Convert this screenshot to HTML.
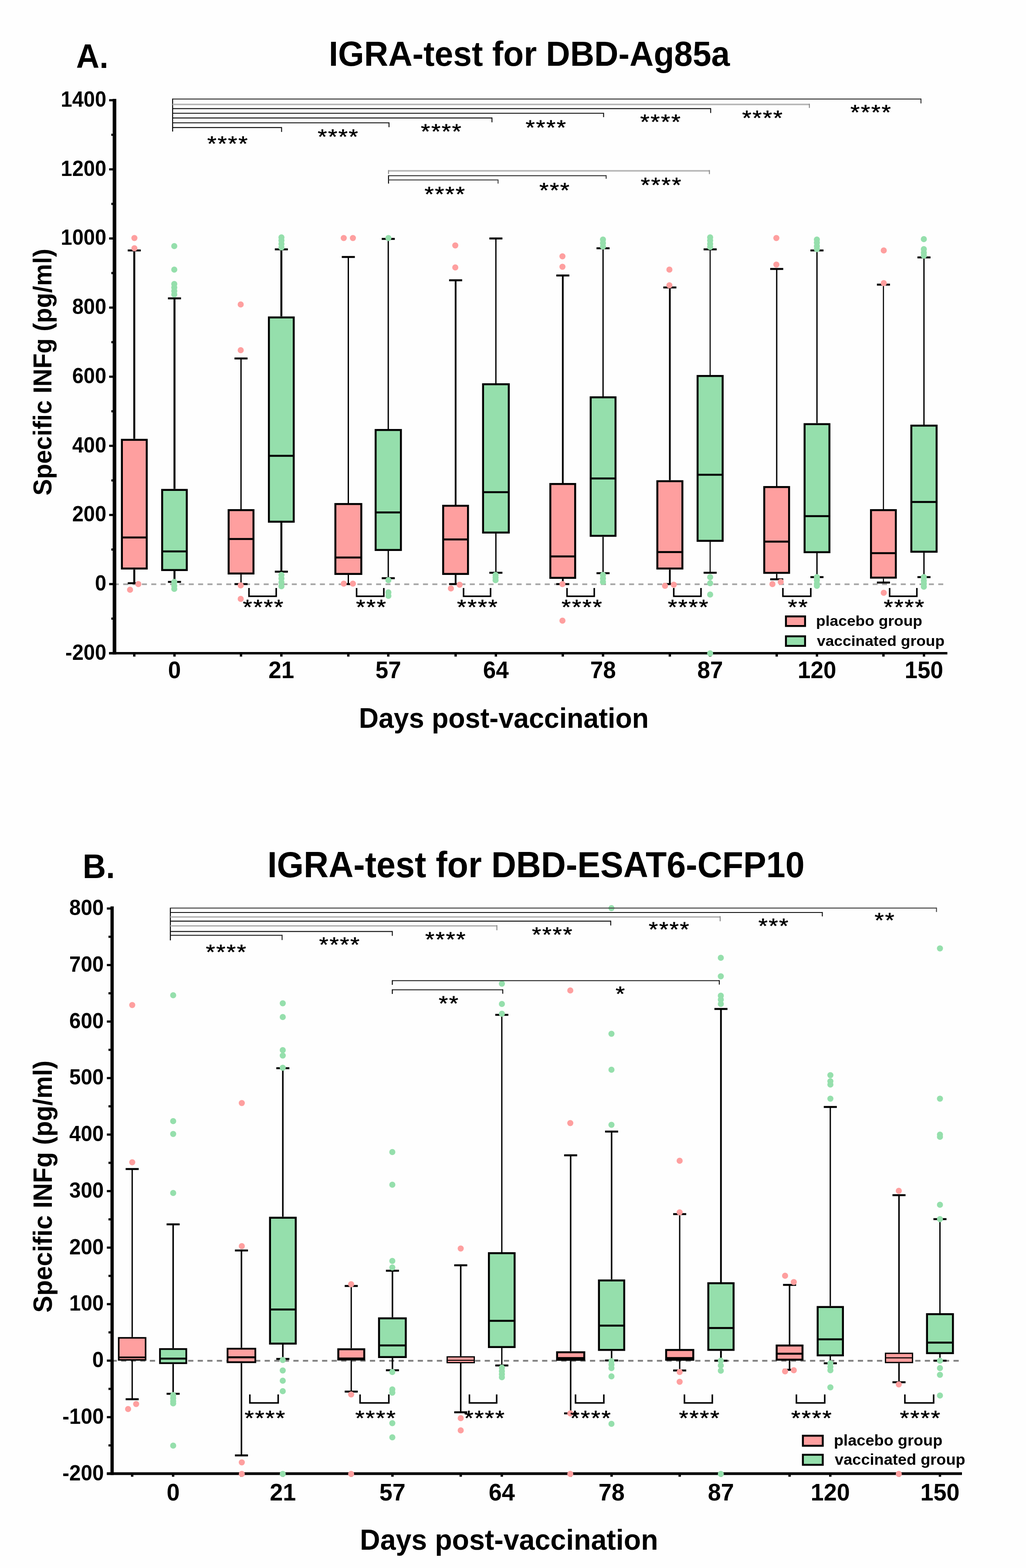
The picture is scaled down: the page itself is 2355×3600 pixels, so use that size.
<!DOCTYPE html><html><head><meta charset="utf-8"><style>html,body{margin:0;padding:0;background:#fefefe;}svg{display:block;}</style></head><body><svg width="2355" height="3600" viewBox="0 0 2355 3600" font-family="'Liberation Sans', Arial, sans-serif">
<rect x="0.0" y="0.0" width="2355.0" height="3600.0" fill="#fefefe"/>
<text transform="translate(174.8,156.0) scale(1,1.045)" font-size="74" font-weight="bold" text-anchor="start" >A.</text>
<text transform="translate(1215.0,150.6) scale(1,1.045)" font-size="76.7" font-weight="bold" text-anchor="middle" >IGRA-test for DBD-Ag85a</text>
<text transform="translate(118,854.3) rotate(-90) scale(1,1.045)" font-size="57" font-weight="bold" text-anchor="middle">Specific INFg (pg/ml)</text>
<text transform="translate(1156.4,1671.2) scale(1,1.045)" font-size="62.7" font-weight="bold" text-anchor="middle" >Days post-vaccination</text>
<line x1="261.2" y1="1341.4" x2="2165.2" y2="1341.4" stroke="#a4a4a4" stroke-width="3.8" stroke-dasharray="11.5 10.004"/>
<line x1="262.8" y1="227.0" x2="262.8" y2="1502.6" stroke="#000" stroke-width="8.3" />
<line x1="250.4" y1="1499.8" x2="2174.5" y2="1499.8" stroke="#000" stroke-width="5.6" />
<line x1="250.5" y1="230.1" x2="262.8" y2="230.1" stroke="#000" stroke-width="5" />
<text transform="translate(244.1,245.0) scale(1,1.045)" font-size="47" font-weight="bold" text-anchor="end" >1400</text>
<line x1="250.5" y1="388.8" x2="262.8" y2="388.8" stroke="#000" stroke-width="5" />
<text transform="translate(244.1,403.7) scale(1,1.045)" font-size="47" font-weight="bold" text-anchor="end" >1200</text>
<line x1="250.5" y1="547.5" x2="262.8" y2="547.5" stroke="#000" stroke-width="5" />
<text transform="translate(244.1,562.4) scale(1,1.045)" font-size="47" font-weight="bold" text-anchor="end" >1000</text>
<line x1="250.5" y1="706.2" x2="262.8" y2="706.2" stroke="#000" stroke-width="5" />
<text transform="translate(244.1,721.1) scale(1,1.045)" font-size="47" font-weight="bold" text-anchor="end" >800</text>
<line x1="250.5" y1="864.9" x2="262.8" y2="864.9" stroke="#000" stroke-width="5" />
<text transform="translate(244.1,879.8) scale(1,1.045)" font-size="47" font-weight="bold" text-anchor="end" >600</text>
<line x1="250.5" y1="1023.6" x2="262.8" y2="1023.6" stroke="#000" stroke-width="5" />
<text transform="translate(244.1,1038.5) scale(1,1.045)" font-size="47" font-weight="bold" text-anchor="end" >400</text>
<line x1="250.5" y1="1182.3" x2="262.8" y2="1182.3" stroke="#000" stroke-width="5" />
<text transform="translate(244.1,1197.2) scale(1,1.045)" font-size="47" font-weight="bold" text-anchor="end" >200</text>
<line x1="250.5" y1="1341.0" x2="262.8" y2="1341.0" stroke="#000" stroke-width="5" />
<text transform="translate(244.1,1355.9) scale(1,1.045)" font-size="47" font-weight="bold" text-anchor="end" >0</text>
<line x1="250.5" y1="1499.7" x2="262.8" y2="1499.7" stroke="#000" stroke-width="5" />
<text transform="translate(244.1,1514.6) scale(1,1.045)" font-size="47" font-weight="bold" text-anchor="end" >-200</text>
<line x1="255.5" y1="309.5" x2="262.8" y2="309.5" stroke="#000" stroke-width="5" />
<line x1="255.5" y1="468.1" x2="262.8" y2="468.1" stroke="#000" stroke-width="5" />
<line x1="255.5" y1="626.9" x2="262.8" y2="626.9" stroke="#000" stroke-width="5" />
<line x1="255.5" y1="785.6" x2="262.8" y2="785.6" stroke="#000" stroke-width="5" />
<line x1="255.5" y1="944.2" x2="262.8" y2="944.2" stroke="#000" stroke-width="5" />
<line x1="255.5" y1="1103.0" x2="262.8" y2="1103.0" stroke="#000" stroke-width="5" />
<line x1="255.5" y1="1261.7" x2="262.8" y2="1261.7" stroke="#000" stroke-width="5" />
<line x1="255.5" y1="1420.3" x2="262.8" y2="1420.3" stroke="#000" stroke-width="5" />
<line x1="308.2" y1="1499.8" x2="308.2" y2="1507.5" stroke="#000" stroke-width="5.5" />
<line x1="400.5" y1="1499.8" x2="400.5" y2="1507.5" stroke="#000" stroke-width="5.5" />
<line x1="553.2" y1="1499.8" x2="553.2" y2="1507.5" stroke="#000" stroke-width="5.5" />
<line x1="645.8" y1="1499.8" x2="645.8" y2="1507.5" stroke="#000" stroke-width="5.5" />
<line x1="799.5" y1="1499.8" x2="799.5" y2="1507.5" stroke="#000" stroke-width="5.5" />
<line x1="891.2" y1="1499.8" x2="891.2" y2="1507.5" stroke="#000" stroke-width="5.5" />
<line x1="1045.8" y1="1499.8" x2="1045.8" y2="1507.5" stroke="#000" stroke-width="5.5" />
<line x1="1138.2" y1="1499.8" x2="1138.2" y2="1507.5" stroke="#000" stroke-width="5.5" />
<line x1="1291.8" y1="1499.8" x2="1291.8" y2="1507.5" stroke="#000" stroke-width="5.5" />
<line x1="1384.2" y1="1499.8" x2="1384.2" y2="1507.5" stroke="#000" stroke-width="5.5" />
<line x1="1537.5" y1="1499.8" x2="1537.5" y2="1507.5" stroke="#000" stroke-width="5.5" />
<line x1="1630.0" y1="1499.8" x2="1630.0" y2="1507.5" stroke="#000" stroke-width="5.5" />
<line x1="1782.8" y1="1499.8" x2="1782.8" y2="1507.5" stroke="#000" stroke-width="5.5" />
<line x1="1875.2" y1="1499.8" x2="1875.2" y2="1507.5" stroke="#000" stroke-width="5.5" />
<line x1="2027.8" y1="1499.8" x2="2027.8" y2="1507.5" stroke="#000" stroke-width="5.5" />
<line x1="2120.8" y1="1499.8" x2="2120.8" y2="1507.5" stroke="#000" stroke-width="5.5" />
<text transform="translate(400.5,1557.0) scale(1,1.045)" font-size="53" font-weight="bold" text-anchor="middle" >0</text>
<text transform="translate(645.8,1557.0) scale(1,1.045)" font-size="53" font-weight="bold" text-anchor="middle" >21</text>
<text transform="translate(891.2,1557.0) scale(1,1.045)" font-size="53" font-weight="bold" text-anchor="middle" >57</text>
<text transform="translate(1138.2,1557.0) scale(1,1.045)" font-size="53" font-weight="bold" text-anchor="middle" >64</text>
<text transform="translate(1384.2,1557.0) scale(1,1.045)" font-size="53" font-weight="bold" text-anchor="middle" >78</text>
<text transform="translate(1630.0,1557.0) scale(1,1.045)" font-size="53" font-weight="bold" text-anchor="middle" >87</text>
<text transform="translate(1875.2,1557.0) scale(1,1.045)" font-size="53" font-weight="bold" text-anchor="middle" >120</text>
<text transform="translate(2120.8,1557.0) scale(1,1.045)" font-size="53" font-weight="bold" text-anchor="middle" >150</text>
<line x1="308.2" y1="575.0" x2="308.2" y2="1007.5" stroke="#000" stroke-width="4.5" />
<line x1="293.2" y1="575.0" x2="323.2" y2="575.0" stroke="#000" stroke-width="4.5" />
<line x1="308.2" y1="1307.5" x2="308.2" y2="1339.0" stroke="#000" stroke-width="4.5" />
<line x1="293.2" y1="1339.0" x2="323.2" y2="1339.0" stroke="#000" stroke-width="4.5" />
<rect x="279.8" y="1009.8" width="57.0" height="295.5" fill="#fe9f9f" stroke="#000" stroke-width="4.5"/>
<line x1="279.8" y1="1234.0" x2="336.8" y2="1234.0" stroke="#000" stroke-width="4.5" />
<line x1="400.5" y1="685.0" x2="400.5" y2="1122.5" stroke="#000" stroke-width="4.5" />
<line x1="385.5" y1="685.0" x2="415.5" y2="685.0" stroke="#000" stroke-width="4.5" />
<line x1="400.5" y1="1311.0" x2="400.5" y2="1336.0" stroke="#000" stroke-width="4.5" />
<line x1="385.5" y1="1336.0" x2="415.5" y2="1336.0" stroke="#000" stroke-width="4.5" />
<rect x="372.2" y="1124.8" width="56.5" height="184.0" fill="#95dfac" stroke="#000" stroke-width="4.5"/>
<line x1="372.2" y1="1266.0" x2="428.8" y2="1266.0" stroke="#000" stroke-width="4.5" />
<line x1="553.2" y1="823.0" x2="553.2" y2="1169.0" stroke="#000" stroke-width="3" />
<line x1="538.2" y1="823.0" x2="568.2" y2="823.0" stroke="#000" stroke-width="4.5" />
<line x1="553.2" y1="1319.0" x2="553.2" y2="1341.0" stroke="#000" stroke-width="3" />
<line x1="538.2" y1="1341.0" x2="568.2" y2="1341.0" stroke="#000" stroke-width="4.5" />
<rect x="524.8" y="1171.2" width="57.0" height="145.5" fill="#fe9f9f" stroke="#000" stroke-width="4.5"/>
<line x1="524.8" y1="1237.5" x2="581.8" y2="1237.5" stroke="#000" stroke-width="4.5" />
<line x1="645.8" y1="572.5" x2="645.8" y2="726.5" stroke="#000" stroke-width="4.5" />
<line x1="630.8" y1="572.5" x2="660.8" y2="572.5" stroke="#000" stroke-width="4.5" />
<line x1="645.8" y1="1200.0" x2="645.8" y2="1312.5" stroke="#000" stroke-width="4.5" />
<line x1="630.8" y1="1312.5" x2="660.8" y2="1312.5" stroke="#000" stroke-width="4.5" />
<rect x="617.2" y="728.8" width="57.0" height="469.0" fill="#95dfac" stroke="#000" stroke-width="4.5"/>
<line x1="617.2" y1="1046.5" x2="674.2" y2="1046.5" stroke="#000" stroke-width="4.5" />
<line x1="799.5" y1="590.0" x2="799.5" y2="1155.0" stroke="#000" stroke-width="3" />
<line x1="784.5" y1="590.0" x2="814.5" y2="590.0" stroke="#000" stroke-width="4.5" />
<line x1="799.5" y1="1320.0" x2="799.5" y2="1341.0" stroke="#000" stroke-width="3" />
<line x1="784.5" y1="1341.0" x2="814.5" y2="1341.0" stroke="#000" stroke-width="4.5" />
<rect x="769.8" y="1157.2" width="59.5" height="160.5" fill="#fe9f9f" stroke="#000" stroke-width="4.5"/>
<line x1="769.8" y1="1280.0" x2="829.2" y2="1280.0" stroke="#000" stroke-width="4.5" />
<line x1="891.2" y1="548.5" x2="891.2" y2="985.0" stroke="#000" stroke-width="3" />
<line x1="876.2" y1="548.5" x2="906.2" y2="548.5" stroke="#000" stroke-width="4.5" />
<line x1="891.2" y1="1265.0" x2="891.2" y2="1327.5" stroke="#000" stroke-width="3" />
<line x1="876.2" y1="1327.5" x2="906.2" y2="1327.5" stroke="#000" stroke-width="4.5" />
<rect x="862.2" y="987.2" width="58.0" height="275.5" fill="#95dfac" stroke="#000" stroke-width="4.5"/>
<line x1="862.2" y1="1176.5" x2="920.2" y2="1176.5" stroke="#000" stroke-width="4.5" />
<line x1="1045.8" y1="643.5" x2="1045.8" y2="1159.0" stroke="#000" stroke-width="4" />
<line x1="1030.8" y1="643.5" x2="1060.8" y2="643.5" stroke="#000" stroke-width="4.5" />
<line x1="1045.8" y1="1320.0" x2="1045.8" y2="1341.0" stroke="#000" stroke-width="4" />
<line x1="1030.8" y1="1341.0" x2="1060.8" y2="1341.0" stroke="#000" stroke-width="4.5" />
<rect x="1017.2" y="1161.2" width="57.0" height="156.5" fill="#fe9f9f" stroke="#000" stroke-width="4.5"/>
<line x1="1017.2" y1="1238.5" x2="1074.2" y2="1238.5" stroke="#000" stroke-width="4.5" />
<line x1="1138.2" y1="547.5" x2="1138.2" y2="880.0" stroke="#000" stroke-width="3" />
<line x1="1123.2" y1="547.5" x2="1153.2" y2="547.5" stroke="#000" stroke-width="4.5" />
<line x1="1138.2" y1="1225.0" x2="1138.2" y2="1315.0" stroke="#000" stroke-width="3" />
<line x1="1123.2" y1="1315.0" x2="1153.2" y2="1315.0" stroke="#000" stroke-width="4.5" />
<rect x="1108.8" y="882.2" width="59.0" height="340.5" fill="#95dfac" stroke="#000" stroke-width="4.5"/>
<line x1="1108.8" y1="1130.0" x2="1167.8" y2="1130.0" stroke="#000" stroke-width="4.5" />
<line x1="1291.8" y1="632.5" x2="1291.8" y2="1109.0" stroke="#000" stroke-width="4" />
<line x1="1276.8" y1="632.5" x2="1306.8" y2="632.5" stroke="#000" stroke-width="4.5" />
<line x1="1291.8" y1="1329.0" x2="1291.8" y2="1341.0" stroke="#000" stroke-width="4" />
<line x1="1276.8" y1="1341.0" x2="1306.8" y2="1341.0" stroke="#000" stroke-width="4.5" />
<rect x="1263.2" y="1111.2" width="57.0" height="215.5" fill="#fe9f9f" stroke="#000" stroke-width="4.5"/>
<line x1="1263.2" y1="1277.5" x2="1320.2" y2="1277.5" stroke="#000" stroke-width="4.5" />
<line x1="1384.2" y1="570.0" x2="1384.2" y2="910.0" stroke="#000" stroke-width="3" />
<line x1="1369.2" y1="570.0" x2="1399.2" y2="570.0" stroke="#000" stroke-width="4.5" />
<line x1="1384.2" y1="1232.5" x2="1384.2" y2="1316.0" stroke="#000" stroke-width="3" />
<line x1="1369.2" y1="1316.0" x2="1399.2" y2="1316.0" stroke="#000" stroke-width="4.5" />
<rect x="1355.8" y="912.2" width="57.0" height="318.0" fill="#95dfac" stroke="#000" stroke-width="4.5"/>
<line x1="1355.8" y1="1098.5" x2="1412.8" y2="1098.5" stroke="#000" stroke-width="4.5" />
<line x1="1537.5" y1="660.0" x2="1537.5" y2="1102.5" stroke="#000" stroke-width="4" />
<line x1="1522.5" y1="660.0" x2="1552.5" y2="660.0" stroke="#000" stroke-width="4.5" />
<line x1="1537.5" y1="1307.5" x2="1537.5" y2="1341.0" stroke="#000" stroke-width="4" />
<line x1="1522.5" y1="1341.0" x2="1552.5" y2="1341.0" stroke="#000" stroke-width="4.5" />
<rect x="1508.8" y="1104.8" width="57.5" height="200.5" fill="#fe9f9f" stroke="#000" stroke-width="4.5"/>
<line x1="1508.8" y1="1267.5" x2="1566.2" y2="1267.5" stroke="#000" stroke-width="4.5" />
<line x1="1630.0" y1="572.5" x2="1630.0" y2="861.0" stroke="#000" stroke-width="2.5" />
<line x1="1615.0" y1="572.5" x2="1645.0" y2="572.5" stroke="#000" stroke-width="4.5" />
<line x1="1630.0" y1="1244.0" x2="1630.0" y2="1315.0" stroke="#000" stroke-width="2.5" />
<line x1="1615.0" y1="1315.0" x2="1645.0" y2="1315.0" stroke="#000" stroke-width="4.5" />
<rect x="1601.2" y="863.2" width="57.5" height="378.5" fill="#95dfac" stroke="#000" stroke-width="4.5"/>
<line x1="1601.2" y1="1090.0" x2="1658.8" y2="1090.0" stroke="#000" stroke-width="4.5" />
<line x1="1782.8" y1="617.5" x2="1782.8" y2="1116.0" stroke="#000" stroke-width="3" />
<line x1="1767.8" y1="617.5" x2="1797.8" y2="617.5" stroke="#000" stroke-width="4.5" />
<line x1="1782.8" y1="1317.5" x2="1782.8" y2="1330.0" stroke="#000" stroke-width="3" />
<line x1="1767.8" y1="1330.0" x2="1797.8" y2="1330.0" stroke="#000" stroke-width="4.5" />
<rect x="1754.2" y="1118.2" width="57.0" height="197.0" fill="#fe9f9f" stroke="#000" stroke-width="4.5"/>
<line x1="1754.2" y1="1243.5" x2="1811.2" y2="1243.5" stroke="#000" stroke-width="4.5" />
<line x1="1875.2" y1="575.0" x2="1875.2" y2="971.5" stroke="#000" stroke-width="3" />
<line x1="1860.2" y1="575.0" x2="1890.2" y2="575.0" stroke="#000" stroke-width="4.5" />
<line x1="1875.2" y1="1270.0" x2="1875.2" y2="1325.0" stroke="#000" stroke-width="3" />
<line x1="1860.2" y1="1325.0" x2="1890.2" y2="1325.0" stroke="#000" stroke-width="4.5" />
<rect x="1846.8" y="973.8" width="57.0" height="294.0" fill="#95dfac" stroke="#000" stroke-width="4.5"/>
<line x1="1846.8" y1="1185.0" x2="1903.8" y2="1185.0" stroke="#000" stroke-width="4.5" />
<line x1="2027.8" y1="653.5" x2="2027.8" y2="1169.0" stroke="#000" stroke-width="2.5" />
<line x1="2012.8" y1="653.5" x2="2042.8" y2="653.5" stroke="#000" stroke-width="4.5" />
<line x1="2027.8" y1="1328.5" x2="2027.8" y2="1337.5" stroke="#000" stroke-width="2.5" />
<line x1="2012.8" y1="1337.5" x2="2042.8" y2="1337.5" stroke="#000" stroke-width="4.5" />
<rect x="1999.2" y="1171.2" width="57.0" height="155.0" fill="#fe9f9f" stroke="#000" stroke-width="4.5"/>
<line x1="1999.2" y1="1270.0" x2="2056.2" y2="1270.0" stroke="#000" stroke-width="4.5" />
<line x1="2120.8" y1="591.0" x2="2120.8" y2="975.0" stroke="#000" stroke-width="3" />
<line x1="2105.8" y1="591.0" x2="2135.8" y2="591.0" stroke="#000" stroke-width="4.5" />
<line x1="2120.8" y1="1269.0" x2="2120.8" y2="1325.0" stroke="#000" stroke-width="3" />
<line x1="2105.8" y1="1325.0" x2="2135.8" y2="1325.0" stroke="#000" stroke-width="4.5" />
<rect x="2091.8" y="977.2" width="58.0" height="289.5" fill="#95dfac" stroke="#000" stroke-width="4.5"/>
<line x1="2091.8" y1="1152.5" x2="2149.8" y2="1152.5" stroke="#000" stroke-width="4.5" />
<circle cx="308.5" cy="546.5" r="7.0" fill="#fe9f9f"/>
<circle cx="308.5" cy="570.0" r="7.0" fill="#fe9f9f"/>
<circle cx="298.5" cy="1354.0" r="7.0" fill="#fe9f9f"/>
<circle cx="317.5" cy="1341.0" r="7.0" fill="#fe9f9f"/>
<circle cx="400.0" cy="565.0" r="7.0" fill="#95dfac"/>
<circle cx="400.0" cy="619.0" r="7.0" fill="#95dfac"/>
<circle cx="400.0" cy="652.0" r="7.0" fill="#95dfac"/>
<circle cx="400.0" cy="660.0" r="7.0" fill="#95dfac"/>
<circle cx="400.0" cy="668.0" r="7.0" fill="#95dfac"/>
<circle cx="400.0" cy="676.0" r="7.0" fill="#95dfac"/>
<circle cx="400.0" cy="1336.0" r="7.0" fill="#95dfac"/>
<circle cx="400.0" cy="1345.0" r="7.0" fill="#95dfac"/>
<circle cx="400.0" cy="1352.0" r="7.0" fill="#95dfac"/>
<circle cx="552.5" cy="699.0" r="7.0" fill="#fe9f9f"/>
<circle cx="552.5" cy="804.0" r="7.0" fill="#fe9f9f"/>
<circle cx="552.5" cy="1344.0" r="7.0" fill="#fe9f9f"/>
<circle cx="552.5" cy="1375.0" r="7.0" fill="#fe9f9f"/>
<circle cx="646.0" cy="545.0" r="7.0" fill="#95dfac"/>
<circle cx="646.0" cy="552.0" r="7.0" fill="#95dfac"/>
<circle cx="646.0" cy="560.0" r="7.0" fill="#95dfac"/>
<circle cx="646.0" cy="568.0" r="7.0" fill="#95dfac"/>
<circle cx="646.0" cy="1320.0" r="7.0" fill="#95dfac"/>
<circle cx="646.0" cy="1328.0" r="7.0" fill="#95dfac"/>
<circle cx="646.0" cy="1337.0" r="7.0" fill="#95dfac"/>
<circle cx="646.0" cy="1346.0" r="7.0" fill="#95dfac"/>
<circle cx="789.0" cy="546.5" r="7.0" fill="#fe9f9f"/>
<circle cx="810.0" cy="546.5" r="7.0" fill="#fe9f9f"/>
<circle cx="789.0" cy="1340.0" r="7.0" fill="#fe9f9f"/>
<circle cx="810.0" cy="1340.0" r="7.0" fill="#fe9f9f"/>
<circle cx="891.5" cy="546.5" r="7.0" fill="#95dfac"/>
<circle cx="891.5" cy="1332.0" r="7.0" fill="#95dfac"/>
<circle cx="891.5" cy="1360.0" r="7.0" fill="#95dfac"/>
<circle cx="891.5" cy="1368.0" r="7.0" fill="#95dfac"/>
<circle cx="1045.0" cy="563.5" r="7.0" fill="#fe9f9f"/>
<circle cx="1045.0" cy="614.0" r="7.0" fill="#fe9f9f"/>
<circle cx="1035.0" cy="1351.0" r="7.0" fill="#fe9f9f"/>
<circle cx="1055.0" cy="1342.5" r="7.0" fill="#fe9f9f"/>
<circle cx="1137.5" cy="1320.0" r="7.0" fill="#95dfac"/>
<circle cx="1137.5" cy="1326.0" r="7.0" fill="#95dfac"/>
<circle cx="1137.5" cy="1332.0" r="7.0" fill="#95dfac"/>
<circle cx="1291.0" cy="588.5" r="7.0" fill="#fe9f9f"/>
<circle cx="1291.0" cy="612.5" r="7.0" fill="#fe9f9f"/>
<circle cx="1291.0" cy="1341.0" r="7.0" fill="#fe9f9f"/>
<circle cx="1291.0" cy="1425.0" r="7.0" fill="#fe9f9f"/>
<circle cx="1384.0" cy="550.0" r="7.0" fill="#95dfac"/>
<circle cx="1384.0" cy="558.0" r="7.0" fill="#95dfac"/>
<circle cx="1384.0" cy="566.0" r="7.0" fill="#95dfac"/>
<circle cx="1384.0" cy="1320.0" r="7.0" fill="#95dfac"/>
<circle cx="1384.0" cy="1328.0" r="7.0" fill="#95dfac"/>
<circle cx="1384.0" cy="1336.0" r="7.0" fill="#95dfac"/>
<circle cx="1536.5" cy="619.0" r="7.0" fill="#fe9f9f"/>
<circle cx="1536.5" cy="655.0" r="7.0" fill="#fe9f9f"/>
<circle cx="1526.5" cy="1345.0" r="7.0" fill="#fe9f9f"/>
<circle cx="1546.5" cy="1342.5" r="7.0" fill="#fe9f9f"/>
<circle cx="1630.0" cy="545.0" r="7.0" fill="#95dfac"/>
<circle cx="1630.0" cy="552.0" r="7.0" fill="#95dfac"/>
<circle cx="1630.0" cy="560.0" r="7.0" fill="#95dfac"/>
<circle cx="1630.0" cy="567.0" r="7.0" fill="#95dfac"/>
<circle cx="1630.0" cy="1325.0" r="7.0" fill="#95dfac"/>
<circle cx="1630.0" cy="1339.0" r="7.0" fill="#95dfac"/>
<circle cx="1630.0" cy="1365.0" r="7.0" fill="#95dfac"/>
<circle cx="1630.0" cy="1500.0" r="7.0" fill="#95dfac"/>
<circle cx="1782.0" cy="546.5" r="7.0" fill="#fe9f9f"/>
<circle cx="1782.0" cy="607.5" r="7.0" fill="#fe9f9f"/>
<circle cx="1773.0" cy="1341.0" r="7.0" fill="#fe9f9f"/>
<circle cx="1792.0" cy="1336.0" r="7.0" fill="#fe9f9f"/>
<circle cx="1875.0" cy="550.0" r="7.0" fill="#95dfac"/>
<circle cx="1875.0" cy="557.0" r="7.0" fill="#95dfac"/>
<circle cx="1875.0" cy="565.0" r="7.0" fill="#95dfac"/>
<circle cx="1875.0" cy="572.0" r="7.0" fill="#95dfac"/>
<circle cx="1875.0" cy="1325.0" r="7.0" fill="#95dfac"/>
<circle cx="1875.0" cy="1332.0" r="7.0" fill="#95dfac"/>
<circle cx="1875.0" cy="1340.0" r="7.0" fill="#95dfac"/>
<circle cx="1875.0" cy="1345.0" r="7.0" fill="#95dfac"/>
<circle cx="2028.5" cy="575.0" r="7.0" fill="#fe9f9f"/>
<circle cx="2028.5" cy="650.0" r="7.0" fill="#fe9f9f"/>
<circle cx="2028.5" cy="1361.0" r="7.0" fill="#fe9f9f"/>
<circle cx="2120.5" cy="549.0" r="7.0" fill="#95dfac"/>
<circle cx="2120.5" cy="572.0" r="7.0" fill="#95dfac"/>
<circle cx="2120.5" cy="580.0" r="7.0" fill="#95dfac"/>
<circle cx="2120.5" cy="587.0" r="7.0" fill="#95dfac"/>
<circle cx="2120.5" cy="1325.0" r="7.0" fill="#95dfac"/>
<circle cx="2120.5" cy="1333.0" r="7.0" fill="#95dfac"/>
<circle cx="2120.5" cy="1340.0" r="7.0" fill="#95dfac"/>
<circle cx="2120.5" cy="1347.0" r="7.0" fill="#95dfac"/>
<line x1="396.2" y1="226.3" x2="396.2" y2="302.0" stroke="#000" stroke-width="2.2" />
<line x1="396.2" y1="227.4" x2="2113.9" y2="227.4" stroke="#333" stroke-width="2.2" />
<line x1="2113.9" y1="226.3" x2="2113.9" y2="237.4" stroke="#333" stroke-width="2.2" />
<line x1="396.2" y1="239.8" x2="1857.8" y2="239.8" stroke="#b5b5b5" stroke-width="3.4" />
<line x1="1857.8" y1="238.1" x2="1857.8" y2="247.8" stroke="#888" stroke-width="2.2" />
<line x1="396.2" y1="249.4" x2="1631.2" y2="249.4" stroke="#111" stroke-width="2.2" />
<line x1="1631.2" y1="248.3" x2="1631.2" y2="259.4" stroke="#111" stroke-width="2.2" />
<line x1="396.2" y1="260.0" x2="1385.4" y2="260.0" stroke="#111" stroke-width="2.2" />
<line x1="1385.4" y1="258.9" x2="1385.4" y2="269.0" stroke="#111" stroke-width="2.2" />
<line x1="396.2" y1="270.8" x2="1129.2" y2="270.8" stroke="#111" stroke-width="2.2" />
<line x1="1129.2" y1="269.7" x2="1129.2" y2="280.8" stroke="#111" stroke-width="2.2" />
<line x1="396.2" y1="282.0" x2="892.9" y2="282.0" stroke="#111" stroke-width="2.2" />
<line x1="892.9" y1="280.9" x2="892.9" y2="292.0" stroke="#111" stroke-width="2.2" />
<line x1="396.2" y1="292.9" x2="646.3" y2="292.9" stroke="#111" stroke-width="2.2" />
<line x1="646.3" y1="291.8" x2="646.3" y2="302.9" stroke="#111" stroke-width="2.2" />
<text transform="translate(475.8,345.7) scale(1.13,1)" font-size="48.2" font-weight="normal" stroke="#000" stroke-width="0.7" stroke-linejoin="round" letter-spacing="2.3">****</text>
<text transform="translate(729.2,330.4) scale(1.13,1)" font-size="48.2" font-weight="normal" stroke="#000" stroke-width="0.7" stroke-linejoin="round" letter-spacing="2.3">****</text>
<text transform="translate(966.1,318.0) scale(1.13,1)" font-size="48.2" font-weight="normal" stroke="#000" stroke-width="0.7" stroke-linejoin="round" letter-spacing="2.3">****</text>
<text transform="translate(1206.4,308.5) scale(1.13,1)" font-size="48.2" font-weight="normal" stroke="#000" stroke-width="0.7" stroke-linejoin="round" letter-spacing="2.3">****</text>
<text transform="translate(1469.4,295.8) scale(1.13,1)" font-size="48.2" font-weight="normal" stroke="#000" stroke-width="0.7" stroke-linejoin="round" letter-spacing="2.3">****</text>
<text transform="translate(1703.5,287.1) scale(1.13,1)" font-size="48.2" font-weight="normal" stroke="#000" stroke-width="0.7" stroke-linejoin="round" letter-spacing="2.3">****</text>
<text transform="translate(1952.1,274.1) scale(1.13,1)" font-size="48.2" font-weight="normal" stroke="#000" stroke-width="0.7" stroke-linejoin="round" letter-spacing="2.3">****</text>
<line x1="891.8" y1="402.4" x2="891.8" y2="421.5" stroke="#000" stroke-width="2.2" />
<line x1="891.8" y1="392.2" x2="1628.3" y2="392.2" stroke="#b5b5b5" stroke-width="3.4" />
<line x1="1628.3" y1="390.5" x2="1628.3" y2="399.7" stroke="#888" stroke-width="2.2" />
<line x1="891.8" y1="403.4" x2="1391.3" y2="403.4" stroke="#333" stroke-width="2.2" />
<line x1="1391.3" y1="402.3" x2="1391.3" y2="410.4" stroke="#333" stroke-width="2.2" />
<line x1="891.8" y1="413.2" x2="1143.2" y2="413.2" stroke="#444" stroke-width="2.2" />
<line x1="1143.2" y1="412.1" x2="1143.2" y2="421.5" stroke="#444" stroke-width="2.2" />
<line x1="891.8" y1="390.5" x2="891.8" y2="399.5" stroke="#888" stroke-width="2.2" />
<text transform="translate(974.5,461.6) scale(1.13,1)" font-size="48.2" font-weight="normal" stroke="#000" stroke-width="0.7" stroke-linejoin="round" letter-spacing="2.3">****</text>
<text transform="translate(1238.1,452.5) scale(1.13,1)" font-size="48.2" font-weight="normal" stroke="#000" stroke-width="0.7" stroke-linejoin="round" letter-spacing="2.3">***</text>
<text transform="translate(1470.8,440.6) scale(1.13,1)" font-size="48.2" font-weight="normal" stroke="#000" stroke-width="0.7" stroke-linejoin="round" letter-spacing="2.3">****</text>
<path d="M571.5,1350.0 V1369.0 H634.0 V1350.0" fill="none" stroke="#000" stroke-width="3.5" stroke-linejoin="miter"/>
<text transform="translate(557.6,1409.9) scale(1.13,1)" font-size="48.2" font-weight="normal" stroke="#000" stroke-width="0.7" stroke-linejoin="round" letter-spacing="2.3">****</text>
<path d="M818.5,1350.0 V1369.0 H881.0 V1350.0" fill="none" stroke="#000" stroke-width="3.5" stroke-linejoin="miter"/>
<text transform="translate(817.2,1409.9) scale(1.13,1)" font-size="48.2" font-weight="normal" stroke="#000" stroke-width="0.7" stroke-linejoin="round" letter-spacing="2.3">***</text>
<path d="M1064.0,1350.0 V1369.0 H1126.0 V1350.0" fill="none" stroke="#000" stroke-width="3.5" stroke-linejoin="miter"/>
<text transform="translate(1049.1,1409.9) scale(1.13,1)" font-size="48.2" font-weight="normal" stroke="#000" stroke-width="0.7" stroke-linejoin="round" letter-spacing="2.3">****</text>
<path d="M1301.5,1350.0 V1369.0 H1364.0 V1350.0" fill="none" stroke="#000" stroke-width="3.5" stroke-linejoin="miter"/>
<text transform="translate(1289.1,1409.9) scale(1.13,1)" font-size="48.2" font-weight="normal" stroke="#000" stroke-width="0.7" stroke-linejoin="round" letter-spacing="2.3">****</text>
<path d="M1546.5,1350.0 V1369.0 H1609.0 V1350.0" fill="none" stroke="#000" stroke-width="3.5" stroke-linejoin="miter"/>
<text transform="translate(1532.9,1409.9) scale(1.13,1)" font-size="48.2" font-weight="normal" stroke="#000" stroke-width="0.7" stroke-linejoin="round" letter-spacing="2.3">****</text>
<path d="M1797.0,1350.0 V1369.0 H1861.0 V1350.0" fill="none" stroke="#000" stroke-width="3.5" stroke-linejoin="miter"/>
<text transform="translate(1808.6,1409.9) scale(1.13,1)" font-size="48.2" font-weight="normal" stroke="#000" stroke-width="0.7" stroke-linejoin="round" letter-spacing="2.3">**</text>
<path d="M2042.0,1350.0 V1369.0 H2104.5 V1350.0" fill="none" stroke="#000" stroke-width="3.5" stroke-linejoin="miter"/>
<text transform="translate(2028.6,1409.9) scale(1.13,1)" font-size="48.2" font-weight="normal" stroke="#000" stroke-width="0.7" stroke-linejoin="round" letter-spacing="2.3">****</text>
<rect x="1804.0" y="1415.2" width="43.9" height="22.0" fill="#fe9f9f" stroke="#000" stroke-width="4.4"/>
<rect x="1804.0" y="1460.9" width="43.9" height="22.0" fill="#95dfac" stroke="#000" stroke-width="4.4"/>
<text transform="translate(1873.1,1436.9) scale(1,0.95)" font-size="35.4" font-weight="bold" text-anchor="start" >placebo group</text>
<text transform="translate(1875.0,1483.1) scale(1,0.95)" font-size="35.4" font-weight="bold" text-anchor="start" >vaccinated group</text>
<text transform="translate(189.8,2016.0) scale(1,1.045)" font-size="74" font-weight="bold" text-anchor="start" >B.</text>
<text transform="translate(1230.2,2013.5) scale(1,1.045)" font-size="79.1" font-weight="bold" text-anchor="middle" >IGRA-test for DBD-ESAT6-CFP10</text>
<text transform="translate(118.5,2724.3) rotate(-90) scale(1,1.045)" font-size="58.2" font-weight="bold" text-anchor="middle">Specific INFg (pg/ml)</text>
<text transform="translate(1168.3,3557.7) scale(1,1.045)" font-size="64.5" font-weight="bold" text-anchor="middle" >Days post-vaccination</text>
<line x1="256.1" y1="3124.3" x2="2201" y2="3124.3" stroke="#7f7f7f" stroke-width="4" stroke-dasharray="12 9.96"/>
<line x1="257.3" y1="2081.0" x2="257.3" y2="3386.4" stroke="#000" stroke-width="7.5" />
<line x1="245.3" y1="3383.3" x2="2208.0" y2="3383.3" stroke="#000" stroke-width="6.2" />
<line x1="245.3" y1="2085.9" x2="257.3" y2="2085.9" stroke="#000" stroke-width="5" />
<text transform="translate(238.3,2101.0) scale(1,1.045)" font-size="47.5" font-weight="bold" text-anchor="end" >800</text>
<line x1="245.3" y1="2215.7" x2="257.3" y2="2215.7" stroke="#000" stroke-width="5" />
<text transform="translate(238.3,2230.7) scale(1,1.045)" font-size="47.5" font-weight="bold" text-anchor="end" >700</text>
<line x1="245.3" y1="2345.4" x2="257.3" y2="2345.4" stroke="#000" stroke-width="5" />
<text transform="translate(238.3,2360.5) scale(1,1.045)" font-size="47.5" font-weight="bold" text-anchor="end" >600</text>
<line x1="245.3" y1="2475.2" x2="257.3" y2="2475.2" stroke="#000" stroke-width="5" />
<text transform="translate(238.3,2490.2) scale(1,1.045)" font-size="47.5" font-weight="bold" text-anchor="end" >500</text>
<line x1="245.3" y1="2604.9" x2="257.3" y2="2604.9" stroke="#000" stroke-width="5" />
<text transform="translate(238.3,2620.0) scale(1,1.045)" font-size="47.5" font-weight="bold" text-anchor="end" >400</text>
<line x1="245.3" y1="2734.7" x2="257.3" y2="2734.7" stroke="#000" stroke-width="5" />
<text transform="translate(238.3,2749.7) scale(1,1.045)" font-size="47.5" font-weight="bold" text-anchor="end" >300</text>
<line x1="245.3" y1="2864.4" x2="257.3" y2="2864.4" stroke="#000" stroke-width="5" />
<text transform="translate(238.3,2879.5) scale(1,1.045)" font-size="47.5" font-weight="bold" text-anchor="end" >200</text>
<line x1="245.3" y1="2994.2" x2="257.3" y2="2994.2" stroke="#000" stroke-width="5" />
<text transform="translate(238.3,3009.2) scale(1,1.045)" font-size="47.5" font-weight="bold" text-anchor="end" >100</text>
<line x1="245.3" y1="3123.9" x2="257.3" y2="3123.9" stroke="#000" stroke-width="5" />
<text transform="translate(238.3,3139.0) scale(1,1.045)" font-size="47.5" font-weight="bold" text-anchor="end" >0</text>
<line x1="245.3" y1="3253.7" x2="257.3" y2="3253.7" stroke="#000" stroke-width="5" />
<text transform="translate(238.3,3268.7) scale(1,1.045)" font-size="47.5" font-weight="bold" text-anchor="end" >-100</text>
<line x1="245.3" y1="3383.4" x2="257.3" y2="3383.4" stroke="#000" stroke-width="5" />
<text transform="translate(238.3,3398.5) scale(1,1.045)" font-size="47.5" font-weight="bold" text-anchor="end" >-200</text>
<line x1="249.0" y1="2150.8" x2="257.3" y2="2150.8" stroke="#000" stroke-width="5" />
<line x1="249.0" y1="2280.5" x2="257.3" y2="2280.5" stroke="#000" stroke-width="5" />
<line x1="249.0" y1="2410.3" x2="257.3" y2="2410.3" stroke="#000" stroke-width="5" />
<line x1="249.0" y1="2540.0" x2="257.3" y2="2540.0" stroke="#000" stroke-width="5" />
<line x1="249.0" y1="2669.8" x2="257.3" y2="2669.8" stroke="#000" stroke-width="5" />
<line x1="249.0" y1="2799.5" x2="257.3" y2="2799.5" stroke="#000" stroke-width="5" />
<line x1="249.0" y1="2929.3" x2="257.3" y2="2929.3" stroke="#000" stroke-width="5" />
<line x1="249.0" y1="3059.0" x2="257.3" y2="3059.0" stroke="#000" stroke-width="5" />
<line x1="249.0" y1="3188.8" x2="257.3" y2="3188.8" stroke="#000" stroke-width="5" />
<line x1="249.0" y1="3318.5" x2="257.3" y2="3318.5" stroke="#000" stroke-width="5" />
<line x1="303.4" y1="3383.3" x2="303.4" y2="3390.5" stroke="#000" stroke-width="5.5" />
<line x1="397.4" y1="3383.3" x2="397.4" y2="3390.5" stroke="#000" stroke-width="5.5" />
<line x1="554.2" y1="3383.3" x2="554.2" y2="3390.5" stroke="#000" stroke-width="5.5" />
<line x1="649.2" y1="3383.3" x2="649.2" y2="3390.5" stroke="#000" stroke-width="5.5" />
<line x1="806.2" y1="3383.3" x2="806.2" y2="3390.5" stroke="#000" stroke-width="5.5" />
<line x1="900.8" y1="3383.3" x2="900.8" y2="3390.5" stroke="#000" stroke-width="5.5" />
<line x1="1057.5" y1="3383.3" x2="1057.5" y2="3390.5" stroke="#000" stroke-width="5.5" />
<line x1="1151.8" y1="3383.3" x2="1151.8" y2="3390.5" stroke="#000" stroke-width="5.5" />
<line x1="1309.8" y1="3383.3" x2="1309.8" y2="3390.5" stroke="#000" stroke-width="5.5" />
<line x1="1403.8" y1="3383.3" x2="1403.8" y2="3390.5" stroke="#000" stroke-width="5.5" />
<line x1="1560.1" y1="3383.3" x2="1560.1" y2="3390.5" stroke="#000" stroke-width="5.5" />
<line x1="1654.8" y1="3383.3" x2="1654.8" y2="3390.5" stroke="#000" stroke-width="5.5" />
<line x1="1812.3" y1="3383.3" x2="1812.3" y2="3390.5" stroke="#000" stroke-width="5.5" />
<line x1="1905.8" y1="3383.3" x2="1905.8" y2="3390.5" stroke="#000" stroke-width="5.5" />
<line x1="2063.5" y1="3383.3" x2="2063.5" y2="3390.5" stroke="#000" stroke-width="5.5" />
<line x1="2157.5" y1="3383.3" x2="2157.5" y2="3390.5" stroke="#000" stroke-width="5.5" />
<text transform="translate(397.4,3445.0) scale(1,1.045)" font-size="54" font-weight="bold" text-anchor="middle" >0</text>
<text transform="translate(649.2,3445.0) scale(1,1.045)" font-size="54" font-weight="bold" text-anchor="middle" >21</text>
<text transform="translate(900.8,3445.0) scale(1,1.045)" font-size="54" font-weight="bold" text-anchor="middle" >57</text>
<text transform="translate(1151.8,3445.0) scale(1,1.045)" font-size="54" font-weight="bold" text-anchor="middle" >64</text>
<text transform="translate(1403.8,3445.0) scale(1,1.045)" font-size="54" font-weight="bold" text-anchor="middle" >78</text>
<text transform="translate(1654.8,3445.0) scale(1,1.045)" font-size="54" font-weight="bold" text-anchor="middle" >87</text>
<text transform="translate(1905.8,3445.0) scale(1,1.045)" font-size="54" font-weight="bold" text-anchor="middle" >120</text>
<text transform="translate(2157.5,3445.0) scale(1,1.045)" font-size="54" font-weight="bold" text-anchor="middle" >150</text>
<line x1="303.4" y1="2684.0" x2="303.4" y2="3069.8" stroke="#000" stroke-width="3" />
<line x1="288.4" y1="2684.0" x2="318.4" y2="2684.0" stroke="#000" stroke-width="4.5" />
<line x1="303.4" y1="3124.0" x2="303.4" y2="3212.5" stroke="#000" stroke-width="3" />
<line x1="288.4" y1="3212.5" x2="318.4" y2="3212.5" stroke="#000" stroke-width="4.5" />
<rect x="272.5" y="3071.6" width="61.7" height="50.6" fill="#fe9f9f" stroke="#000" stroke-width="3.6"/>
<line x1="272.5" y1="3116.4" x2="334.2" y2="3116.4" stroke="#000" stroke-width="3.8" />
<line x1="397.4" y1="2811.0" x2="397.4" y2="3095.3" stroke="#000" stroke-width="3.5" />
<line x1="382.4" y1="2811.0" x2="412.4" y2="2811.0" stroke="#000" stroke-width="4.5" />
<line x1="397.4" y1="3131.7" x2="397.4" y2="3200.0" stroke="#000" stroke-width="3.5" />
<line x1="382.4" y1="3200.0" x2="412.4" y2="3200.0" stroke="#000" stroke-width="4.5" />
<rect x="367.2" y="3097.3" width="60.4" height="32.4" fill="#95dfac" stroke="#000" stroke-width="4"/>
<line x1="367.2" y1="3119.2" x2="427.6" y2="3119.2" stroke="#000" stroke-width="4.5" />
<line x1="554.2" y1="2871.0" x2="554.2" y2="3094.5" stroke="#000" stroke-width="3.5" />
<line x1="539.2" y1="2871.0" x2="569.2" y2="2871.0" stroke="#000" stroke-width="4.5" />
<line x1="554.2" y1="3129.5" x2="554.2" y2="3341.5" stroke="#000" stroke-width="3.5" />
<line x1="539.2" y1="3341.5" x2="569.2" y2="3341.5" stroke="#000" stroke-width="4.5" />
<rect x="522.3" y="3096.5" width="63.8" height="31.0" fill="#fe9f9f" stroke="#000" stroke-width="4"/>
<line x1="522.3" y1="3116.3" x2="586.1" y2="3116.3" stroke="#000" stroke-width="4.5" />
<line x1="649.2" y1="2452.5" x2="649.2" y2="2793.5" stroke="#000" stroke-width="3.5" />
<line x1="634.2" y1="2452.5" x2="664.2" y2="2452.5" stroke="#000" stroke-width="4.5" />
<line x1="649.2" y1="3087.0" x2="649.2" y2="3120.0" stroke="#000" stroke-width="3.5" />
<line x1="634.2" y1="3120.0" x2="664.2" y2="3120.0" stroke="#000" stroke-width="4.5" />
<rect x="619.8" y="2795.8" width="59.0" height="289.0" fill="#95dfac" stroke="#000" stroke-width="4.5"/>
<line x1="619.8" y1="3006.5" x2="678.8" y2="3006.5" stroke="#000" stroke-width="4.5" />
<line x1="806.2" y1="2952.5" x2="806.2" y2="3095.5" stroke="#000" stroke-width="3" />
<line x1="791.2" y1="2952.5" x2="821.2" y2="2952.5" stroke="#000" stroke-width="4.5" />
<line x1="806.2" y1="3123.5" x2="806.2" y2="3195.0" stroke="#000" stroke-width="3" />
<line x1="791.2" y1="3195.0" x2="821.2" y2="3195.0" stroke="#000" stroke-width="4.5" />
<rect x="776.5" y="3097.8" width="59.6" height="23.5" fill="#fe9f9f" stroke="#000" stroke-width="4.5"/>
<line x1="776.5" y1="3119.0" x2="836.0" y2="3119.0" stroke="#000" stroke-width="4.5" />
<line x1="900.8" y1="2917.5" x2="900.8" y2="3024.6" stroke="#000" stroke-width="3.5" />
<line x1="885.8" y1="2917.5" x2="915.8" y2="2917.5" stroke="#000" stroke-width="4.5" />
<line x1="900.8" y1="3118.0" x2="900.8" y2="3146.0" stroke="#000" stroke-width="3.5" />
<line x1="885.8" y1="3146.0" x2="915.8" y2="3146.0" stroke="#000" stroke-width="4.5" />
<rect x="870.0" y="3026.8" width="61.4" height="88.9" fill="#95dfac" stroke="#000" stroke-width="4.5"/>
<line x1="870.0" y1="3089.0" x2="931.5" y2="3089.0" stroke="#000" stroke-width="4.5" />
<line x1="1057.5" y1="2905.0" x2="1057.5" y2="3113.8" stroke="#000" stroke-width="3.5" />
<line x1="1042.5" y1="2905.0" x2="1072.5" y2="2905.0" stroke="#000" stroke-width="4.5" />
<line x1="1057.5" y1="3130.0" x2="1057.5" y2="3242.5" stroke="#000" stroke-width="3.5" />
<line x1="1042.5" y1="3242.5" x2="1072.5" y2="3242.5" stroke="#000" stroke-width="4.5" />
<rect x="1026.4" y="3115.2" width="62.2" height="13.4" fill="#fe9f9f" stroke="#000" stroke-width="2.8"/>
<line x1="1026.4" y1="3123.2" x2="1088.6" y2="3123.2" stroke="#000" stroke-width="2.3" />
<line x1="1151.8" y1="2330.0" x2="1151.8" y2="2875.0" stroke="#000" stroke-width="3" />
<line x1="1136.8" y1="2330.0" x2="1166.8" y2="2330.0" stroke="#000" stroke-width="4.5" />
<line x1="1151.8" y1="3095.0" x2="1151.8" y2="3135.0" stroke="#000" stroke-width="3" />
<line x1="1136.8" y1="3135.0" x2="1166.8" y2="3135.0" stroke="#000" stroke-width="4.5" />
<rect x="1122.2" y="2877.2" width="59.0" height="215.5" fill="#95dfac" stroke="#000" stroke-width="4.5"/>
<line x1="1122.2" y1="3032.5" x2="1181.2" y2="3032.5" stroke="#000" stroke-width="4.5" />
<line x1="1309.8" y1="2652.5" x2="1309.8" y2="3102.4" stroke="#000" stroke-width="3.5" />
<line x1="1294.8" y1="2652.5" x2="1324.8" y2="2652.5" stroke="#000" stroke-width="4.5" />
<line x1="1309.8" y1="3124.2" x2="1309.8" y2="3245.0" stroke="#000" stroke-width="3.5" />
<line x1="1294.8" y1="3245.0" x2="1324.8" y2="3245.0" stroke="#000" stroke-width="4.5" />
<rect x="1278.7" y="3104.7" width="62.4" height="17.3" fill="#fe9f9f" stroke="#000" stroke-width="4.5"/>
<line x1="1278.7" y1="3118.3" x2="1341.0" y2="3118.3" stroke="#000" stroke-width="5" />
<line x1="1403.8" y1="2598.0" x2="1403.8" y2="2937.5" stroke="#000" stroke-width="3.5" />
<line x1="1388.8" y1="2598.0" x2="1418.8" y2="2598.0" stroke="#000" stroke-width="4.5" />
<line x1="1403.8" y1="3101.5" x2="1403.8" y2="3123.5" stroke="#000" stroke-width="3.5" />
<line x1="1388.8" y1="3123.5" x2="1418.8" y2="3123.5" stroke="#000" stroke-width="4.5" />
<rect x="1374.8" y="2939.8" width="58.0" height="159.5" fill="#95dfac" stroke="#000" stroke-width="4.5"/>
<line x1="1374.8" y1="3043.5" x2="1432.8" y2="3043.5" stroke="#000" stroke-width="4.5" />
<line x1="1560.1" y1="2787.5" x2="1560.1" y2="3097.2" stroke="#000" stroke-width="3" />
<line x1="1545.1" y1="2787.5" x2="1575.1" y2="2787.5" stroke="#000" stroke-width="4.5" />
<line x1="1560.1" y1="3124.2" x2="1560.1" y2="3146.5" stroke="#000" stroke-width="3" />
<line x1="1545.1" y1="3146.5" x2="1575.1" y2="3146.5" stroke="#000" stroke-width="4.5" />
<rect x="1529.0" y="3099.4" width="62.3" height="22.5" fill="#fe9f9f" stroke="#000" stroke-width="4.5"/>
<line x1="1529.0" y1="3118.3" x2="1591.2" y2="3118.3" stroke="#000" stroke-width="5" />
<line x1="1654.8" y1="2316.5" x2="1654.8" y2="2944.0" stroke="#000" stroke-width="4" />
<line x1="1639.8" y1="2316.5" x2="1669.8" y2="2316.5" stroke="#000" stroke-width="4.5" />
<line x1="1654.8" y1="3101.5" x2="1654.8" y2="3124.0" stroke="#000" stroke-width="4" />
<line x1="1639.8" y1="3124.0" x2="1669.8" y2="3124.0" stroke="#000" stroke-width="4.5" />
<rect x="1625.8" y="2946.2" width="58.0" height="153.0" fill="#95dfac" stroke="#000" stroke-width="4.5"/>
<line x1="1625.8" y1="3049.0" x2="1683.8" y2="3049.0" stroke="#000" stroke-width="4.5" />
<line x1="1812.3" y1="2950.0" x2="1812.3" y2="3087.0" stroke="#000" stroke-width="3.5" />
<line x1="1797.3" y1="2950.0" x2="1827.3" y2="2950.0" stroke="#000" stroke-width="4.5" />
<line x1="1812.3" y1="3124.0" x2="1812.3" y2="3145.0" stroke="#000" stroke-width="3.5" />
<line x1="1797.3" y1="3145.0" x2="1827.3" y2="3145.0" stroke="#000" stroke-width="4.5" />
<rect x="1782.7" y="3089.2" width="59.3" height="32.5" fill="#fe9f9f" stroke="#000" stroke-width="4.5"/>
<line x1="1782.7" y1="3108.0" x2="1842.0" y2="3108.0" stroke="#000" stroke-width="4.5" />
<line x1="1905.8" y1="2541.5" x2="1905.8" y2="2998.5" stroke="#000" stroke-width="3" />
<line x1="1890.8" y1="2541.5" x2="1920.8" y2="2541.5" stroke="#000" stroke-width="4.5" />
<line x1="1905.8" y1="3114.0" x2="1905.8" y2="3130.0" stroke="#000" stroke-width="3" />
<line x1="1890.8" y1="3130.0" x2="1920.8" y2="3130.0" stroke="#000" stroke-width="4.5" />
<rect x="1876.8" y="3000.8" width="58.0" height="111.0" fill="#95dfac" stroke="#000" stroke-width="4.5"/>
<line x1="1876.8" y1="3075.0" x2="1934.8" y2="3075.0" stroke="#000" stroke-width="4.5" />
<line x1="2063.5" y1="2744.0" x2="2063.5" y2="3105.6" stroke="#000" stroke-width="3.5" />
<line x1="2048.5" y1="2744.0" x2="2078.5" y2="2744.0" stroke="#000" stroke-width="4.5" />
<line x1="2063.5" y1="3129.7" x2="2063.5" y2="3173.5" stroke="#000" stroke-width="3.5" />
<line x1="2048.5" y1="3173.5" x2="2078.5" y2="3173.5" stroke="#000" stroke-width="4.5" />
<rect x="2032.5" y="3107.1" width="62.0" height="21.1" fill="#fe9f9f" stroke="#000" stroke-width="3"/>
<line x1="2032.5" y1="3117.5" x2="2094.5" y2="3117.5" stroke="#000" stroke-width="2.5" />
<line x1="2157.5" y1="2799.0" x2="2157.5" y2="3015.0" stroke="#000" stroke-width="3" />
<line x1="2142.5" y1="2799.0" x2="2172.5" y2="2799.0" stroke="#000" stroke-width="4.5" />
<line x1="2157.5" y1="3109.0" x2="2157.5" y2="3124.0" stroke="#000" stroke-width="3" />
<line x1="2142.5" y1="3124.0" x2="2172.5" y2="3124.0" stroke="#000" stroke-width="4.5" />
<rect x="2127.8" y="3017.2" width="59.5" height="89.5" fill="#95dfac" stroke="#000" stroke-width="4.5"/>
<line x1="2127.8" y1="3082.5" x2="2187.2" y2="3082.5" stroke="#000" stroke-width="4.5" />
<circle cx="303.5" cy="2307.5" r="7.0" fill="#fe9f9f"/>
<circle cx="303.5" cy="2668.5" r="7.0" fill="#fe9f9f"/>
<circle cx="294.0" cy="3235.0" r="7.0" fill="#fe9f9f"/>
<circle cx="312.5" cy="3223.5" r="7.0" fill="#fe9f9f"/>
<circle cx="397.5" cy="2285.0" r="7.0" fill="#95dfac"/>
<circle cx="397.5" cy="2574.0" r="7.0" fill="#95dfac"/>
<circle cx="397.5" cy="2603.5" r="7.0" fill="#95dfac"/>
<circle cx="397.5" cy="2739.0" r="7.0" fill="#95dfac"/>
<circle cx="397.5" cy="3203.0" r="7.0" fill="#95dfac"/>
<circle cx="397.5" cy="3210.0" r="7.0" fill="#95dfac"/>
<circle cx="397.5" cy="3217.0" r="7.0" fill="#95dfac"/>
<circle cx="397.5" cy="3222.0" r="7.0" fill="#95dfac"/>
<circle cx="397.5" cy="3319.0" r="7.0" fill="#95dfac"/>
<circle cx="555.0" cy="2532.5" r="7.0" fill="#fe9f9f"/>
<circle cx="555.0" cy="2861.0" r="7.0" fill="#fe9f9f"/>
<circle cx="555.0" cy="3357.5" r="7.0" fill="#fe9f9f"/>
<circle cx="555.0" cy="3384.0" r="7.0" fill="#fe9f9f"/>
<circle cx="649.0" cy="2303.5" r="7.0" fill="#95dfac"/>
<circle cx="649.0" cy="2335.0" r="7.0" fill="#95dfac"/>
<circle cx="649.0" cy="2411.0" r="7.0" fill="#95dfac"/>
<circle cx="649.0" cy="2423.5" r="7.0" fill="#95dfac"/>
<circle cx="649.0" cy="2451.5" r="7.0" fill="#95dfac"/>
<circle cx="649.0" cy="3122.5" r="7.0" fill="#95dfac"/>
<circle cx="649.0" cy="3146.5" r="7.0" fill="#95dfac"/>
<circle cx="649.0" cy="3170.0" r="7.0" fill="#95dfac"/>
<circle cx="649.0" cy="3194.0" r="7.0" fill="#95dfac"/>
<circle cx="649.0" cy="3384.0" r="7.0" fill="#95dfac"/>
<circle cx="806.0" cy="2948.5" r="7.0" fill="#fe9f9f"/>
<circle cx="806.0" cy="3201.5" r="7.0" fill="#fe9f9f"/>
<circle cx="806.0" cy="3384.0" r="7.0" fill="#fe9f9f"/>
<circle cx="900.5" cy="2645.0" r="7.0" fill="#95dfac"/>
<circle cx="900.5" cy="2720.0" r="7.0" fill="#95dfac"/>
<circle cx="900.5" cy="2895.0" r="7.0" fill="#95dfac"/>
<circle cx="900.5" cy="2910.0" r="7.0" fill="#95dfac"/>
<circle cx="900.5" cy="3150.0" r="7.0" fill="#95dfac"/>
<circle cx="900.5" cy="3190.0" r="7.0" fill="#95dfac"/>
<circle cx="900.5" cy="3197.5" r="7.0" fill="#95dfac"/>
<circle cx="900.5" cy="3267.5" r="7.0" fill="#95dfac"/>
<circle cx="900.5" cy="3300.0" r="7.0" fill="#95dfac"/>
<circle cx="1057.5" cy="2866.5" r="7.0" fill="#fe9f9f"/>
<circle cx="1057.5" cy="3256.0" r="7.0" fill="#fe9f9f"/>
<circle cx="1057.5" cy="3284.0" r="7.0" fill="#fe9f9f"/>
<circle cx="1152.0" cy="2258.5" r="7.0" fill="#95dfac"/>
<circle cx="1152.0" cy="2305.0" r="7.0" fill="#95dfac"/>
<circle cx="1152.0" cy="2327.5" r="7.0" fill="#95dfac"/>
<circle cx="1152.0" cy="3140.0" r="7.0" fill="#95dfac"/>
<circle cx="1152.0" cy="3148.0" r="7.0" fill="#95dfac"/>
<circle cx="1152.0" cy="3155.0" r="7.0" fill="#95dfac"/>
<circle cx="1152.0" cy="3162.0" r="7.0" fill="#95dfac"/>
<circle cx="1309.0" cy="2274.0" r="7.0" fill="#fe9f9f"/>
<circle cx="1309.0" cy="2578.5" r="7.0" fill="#fe9f9f"/>
<circle cx="1309.0" cy="3245.0" r="7.0" fill="#fe9f9f"/>
<circle cx="1309.0" cy="3384.0" r="7.0" fill="#fe9f9f"/>
<circle cx="1403.5" cy="2085.0" r="7.0" fill="#95dfac"/>
<circle cx="1403.5" cy="2373.5" r="7.0" fill="#95dfac"/>
<circle cx="1403.5" cy="2456.0" r="7.0" fill="#95dfac"/>
<circle cx="1403.5" cy="2582.5" r="7.0" fill="#95dfac"/>
<circle cx="1403.5" cy="3125.0" r="7.0" fill="#95dfac"/>
<circle cx="1403.5" cy="3133.0" r="7.0" fill="#95dfac"/>
<circle cx="1403.5" cy="3141.0" r="7.0" fill="#95dfac"/>
<circle cx="1403.5" cy="3160.0" r="7.0" fill="#95dfac"/>
<circle cx="1403.5" cy="3269.0" r="7.0" fill="#95dfac"/>
<circle cx="1560.0" cy="2665.0" r="7.0" fill="#fe9f9f"/>
<circle cx="1560.0" cy="2783.5" r="7.0" fill="#fe9f9f"/>
<circle cx="1560.0" cy="3150.0" r="7.0" fill="#fe9f9f"/>
<circle cx="1560.0" cy="3172.5" r="7.0" fill="#fe9f9f"/>
<circle cx="1654.5" cy="2199.0" r="7.0" fill="#95dfac"/>
<circle cx="1654.5" cy="2241.5" r="7.0" fill="#95dfac"/>
<circle cx="1654.5" cy="2286.0" r="7.0" fill="#95dfac"/>
<circle cx="1654.5" cy="2295.0" r="7.0" fill="#95dfac"/>
<circle cx="1654.5" cy="2305.0" r="7.0" fill="#95dfac"/>
<circle cx="1654.5" cy="3124.0" r="7.0" fill="#95dfac"/>
<circle cx="1654.5" cy="3135.0" r="7.0" fill="#95dfac"/>
<circle cx="1654.5" cy="3147.0" r="7.0" fill="#95dfac"/>
<circle cx="1654.5" cy="3384.0" r="7.0" fill="#95dfac"/>
<circle cx="1802.0" cy="2929.0" r="7.0" fill="#fe9f9f"/>
<circle cx="1822.0" cy="2943.5" r="7.0" fill="#fe9f9f"/>
<circle cx="1802.0" cy="3148.5" r="7.0" fill="#fe9f9f"/>
<circle cx="1822.0" cy="3146.0" r="7.0" fill="#fe9f9f"/>
<circle cx="1906.0" cy="2468.5" r="7.0" fill="#95dfac"/>
<circle cx="1906.0" cy="2482.5" r="7.0" fill="#95dfac"/>
<circle cx="1906.0" cy="2490.0" r="7.0" fill="#95dfac"/>
<circle cx="1906.0" cy="2522.5" r="7.0" fill="#95dfac"/>
<circle cx="1906.0" cy="3130.0" r="7.0" fill="#95dfac"/>
<circle cx="1906.0" cy="3138.0" r="7.0" fill="#95dfac"/>
<circle cx="1906.0" cy="3146.0" r="7.0" fill="#95dfac"/>
<circle cx="1906.0" cy="3185.2" r="7.0" fill="#95dfac"/>
<circle cx="2063.0" cy="2734.0" r="7.0" fill="#fe9f9f"/>
<circle cx="2063.0" cy="3178.5" r="7.0" fill="#fe9f9f"/>
<circle cx="2063.0" cy="3384.0" r="7.0" fill="#fe9f9f"/>
<circle cx="2157.5" cy="2177.5" r="7.0" fill="#95dfac"/>
<circle cx="2157.5" cy="2522.5" r="7.0" fill="#95dfac"/>
<circle cx="2157.5" cy="2605.0" r="7.0" fill="#95dfac"/>
<circle cx="2157.5" cy="2610.0" r="7.0" fill="#95dfac"/>
<circle cx="2157.5" cy="2766.0" r="7.0" fill="#95dfac"/>
<circle cx="2157.5" cy="2799.0" r="7.0" fill="#95dfac"/>
<circle cx="2157.5" cy="3124.0" r="7.0" fill="#95dfac"/>
<circle cx="2157.5" cy="3141.0" r="7.0" fill="#95dfac"/>
<circle cx="2157.5" cy="3156.5" r="7.0" fill="#95dfac"/>
<circle cx="2157.5" cy="3204.0" r="7.0" fill="#95dfac"/>
<line x1="391.0" y1="2084.0" x2="391.0" y2="2159.0" stroke="#000" stroke-width="2.2" />
<line x1="391.0" y1="2084.8" x2="2149.5" y2="2084.8" stroke="#444" stroke-width="2.2" />
<line x1="2149.5" y1="2083.7" x2="2149.5" y2="2093.8" stroke="#444" stroke-width="2.2" />
<line x1="391.0" y1="2095.0" x2="1887.5" y2="2095.0" stroke="#111" stroke-width="2.2" />
<line x1="1887.5" y1="2093.9" x2="1887.5" y2="2104.0" stroke="#111" stroke-width="2.2" />
<line x1="391.0" y1="2105.2" x2="1653.0" y2="2105.2" stroke="#b5b5b5" stroke-width="3.4" />
<line x1="1653.0" y1="2103.5" x2="1653.0" y2="2115.2" stroke="#888" stroke-width="2.2" />
<line x1="391.0" y1="2114.8" x2="1401.8" y2="2114.8" stroke="#111" stroke-width="2.2" />
<line x1="1401.8" y1="2113.7" x2="1401.8" y2="2124.8" stroke="#111" stroke-width="2.2" />
<line x1="391.0" y1="2125.8" x2="1140.5" y2="2125.8" stroke="#b5b5b5" stroke-width="3.4" />
<line x1="1140.5" y1="2124.1" x2="1140.5" y2="2135.8" stroke="#888" stroke-width="2.2" />
<line x1="391.0" y1="2138.6" x2="900.5" y2="2138.6" stroke="#111" stroke-width="2.2" />
<line x1="900.5" y1="2137.5" x2="900.5" y2="2148.6" stroke="#111" stroke-width="2.2" />
<line x1="391.0" y1="2147.3" x2="647.5" y2="2147.3" stroke="#222" stroke-width="2.2" />
<line x1="647.5" y1="2146.2" x2="647.5" y2="2158.3" stroke="#222" stroke-width="2.2" />
<text transform="translate(472.5,2202.2) scale(1.13,1)" font-size="48.2" font-weight="normal" stroke="#000" stroke-width="0.7" stroke-linejoin="round" letter-spacing="2.3">****</text>
<text transform="translate(732.6,2184.9) scale(1.13,1)" font-size="48.2" font-weight="normal" stroke="#000" stroke-width="0.7" stroke-linejoin="round" letter-spacing="2.3">****</text>
<text transform="translate(975.9,2172.9) scale(1.13,1)" font-size="48.2" font-weight="normal" stroke="#000" stroke-width="0.7" stroke-linejoin="round" letter-spacing="2.3">****</text>
<text transform="translate(1220.9,2162.2) scale(1.13,1)" font-size="48.2" font-weight="normal" stroke="#000" stroke-width="0.7" stroke-linejoin="round" letter-spacing="2.3">****</text>
<text transform="translate(1489.1,2150.2) scale(1.13,1)" font-size="48.2" font-weight="normal" stroke="#000" stroke-width="0.7" stroke-linejoin="round" letter-spacing="2.3">****</text>
<text transform="translate(1740.8,2141.7) scale(1.13,1)" font-size="48.2" font-weight="normal" stroke="#000" stroke-width="0.7" stroke-linejoin="round" letter-spacing="2.3">***</text>
<text transform="translate(2007.6,2128.8) scale(1.13,1)" font-size="48.2" font-weight="normal" stroke="#000" stroke-width="0.7" stroke-linejoin="round" letter-spacing="2.3">**</text>
<line x1="900.5" y1="2250.5" x2="900.5" y2="2261.0" stroke="#000" stroke-width="2.2" />
<line x1="900.5" y1="2251.5" x2="1651.0" y2="2251.5" stroke="#111" stroke-width="2.2" />
<line x1="1651.0" y1="2250.4" x2="1651.0" y2="2260.5" stroke="#111" stroke-width="2.2" />
<line x1="900.5" y1="2272.5" x2="1154.0" y2="2272.5" stroke="#111" stroke-width="2.2" />
<line x1="1154.0" y1="2271.4" x2="1154.0" y2="2281.5" stroke="#111" stroke-width="2.2" />
<line x1="900.5" y1="2271.5" x2="900.5" y2="2282.0" stroke="#000" stroke-width="2.2" />
<text transform="translate(1007.0,2320.4) scale(1.13,1)" font-size="48.2" font-weight="normal" stroke="#000" stroke-width="0.7" stroke-linejoin="round" letter-spacing="2.3">**</text>
<text transform="translate(1412.9,2297.7) scale(1.13,1)" font-size="48.2" font-weight="normal" stroke="#000" stroke-width="0.7" stroke-linejoin="round" letter-spacing="2.3">*</text>
<path d="M573.5,3201.5 V3221.0 H638.5 V3201.5" fill="none" stroke="#000" stroke-width="3.5" stroke-linejoin="miter"/>
<text transform="translate(561.6,3272.4) scale(1.13,1)" font-size="48.2" font-weight="normal" stroke="#000" stroke-width="0.7" stroke-linejoin="round" letter-spacing="2.3">****</text>
<path d="M826.5,3201.5 V3221.0 H892.5 V3201.5" fill="none" stroke="#000" stroke-width="3.5" stroke-linejoin="miter"/>
<text transform="translate(815.4,3272.4) scale(1.13,1)" font-size="48.2" font-weight="normal" stroke="#000" stroke-width="0.7" stroke-linejoin="round" letter-spacing="2.3">****</text>
<path d="M1077.5,3201.5 V3221.0 H1140.0 V3201.5" fill="none" stroke="#000" stroke-width="3.5" stroke-linejoin="miter"/>
<text transform="translate(1065.4,3272.4) scale(1.13,1)" font-size="48.2" font-weight="normal" stroke="#000" stroke-width="0.7" stroke-linejoin="round" letter-spacing="2.3">****</text>
<path d="M1321.0,3201.5 V3221.0 H1386.0 V3201.5" fill="none" stroke="#000" stroke-width="3.5" stroke-linejoin="miter"/>
<text transform="translate(1309.1,3272.4) scale(1.13,1)" font-size="48.2" font-weight="normal" stroke="#000" stroke-width="0.7" stroke-linejoin="round" letter-spacing="2.3">****</text>
<path d="M1571.0,3201.5 V3221.0 H1635.0 V3201.5" fill="none" stroke="#000" stroke-width="3.5" stroke-linejoin="miter"/>
<text transform="translate(1558.6,3272.4) scale(1.13,1)" font-size="48.2" font-weight="normal" stroke="#000" stroke-width="0.7" stroke-linejoin="round" letter-spacing="2.3">****</text>
<path d="M1828.0,3201.5 V3221.0 H1893.0 V3201.5" fill="none" stroke="#000" stroke-width="3.5" stroke-linejoin="miter"/>
<text transform="translate(1816.1,3272.4) scale(1.13,1)" font-size="48.2" font-weight="normal" stroke="#000" stroke-width="0.7" stroke-linejoin="round" letter-spacing="2.3">****</text>
<path d="M2077.0,3201.5 V3221.0 H2143.0 V3201.5" fill="none" stroke="#000" stroke-width="3.5" stroke-linejoin="miter"/>
<text transform="translate(2065.4,3272.4) scale(1.13,1)" font-size="48.2" font-weight="normal" stroke="#000" stroke-width="0.7" stroke-linejoin="round" letter-spacing="2.3">****</text>
<rect x="1842.9" y="3296.3" width="45.6" height="23.1" fill="#fe9f9f" stroke="#000" stroke-width="4.4"/>
<rect x="1842.9" y="3340.0" width="45.6" height="23.1" fill="#95dfac" stroke="#000" stroke-width="4.4"/>
<text transform="translate(1914.0,3318.9) scale(1,0.95)" font-size="36.2" font-weight="bold" text-anchor="start" >placebo group</text>
<text transform="translate(1916.0,3363.1) scale(1,0.95)" font-size="36.2" font-weight="bold" text-anchor="start" >vaccinated group</text>
</svg></body></html>
